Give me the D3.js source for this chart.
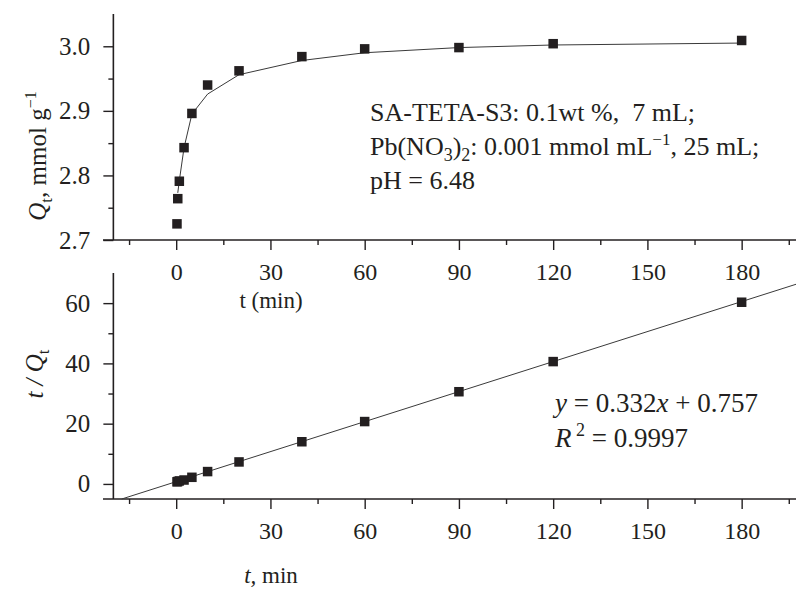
<!DOCTYPE html>
<html>
<head>
<meta charset="utf-8">
<script src="https://cdn.jsdelivr.net/npm/d3@7"></script>
<style>
  body { margin: 0; background: #fff; }
  text { font-family: "Liberation Serif", "Times New Roman", serif; fill: #231f20; white-space: pre; }
</style>
</head>
<body>
<svg id="chart" width="796" height="589"></svg>
<script>
// measured data (top: Qt vs t, bottom: t/Qt vs t)
const times = [0.25, 0.5, 1, 2.5, 5, 10, 20, 40, 60, 90, 120, 180];
const qt = [2.725, 2.764, 2.791, 2.843, 2.896, 2.940, 2.962, 2.984, 2.996, 2.998, 3.004, 3.009];
const fitTimes = [0.5, 1, 2.5, 5, 10, 20, 40, 60, 90, 120, 180];
const fitQt = [2.773, 2.792, 2.843, 2.895, 2.926, 2.956, 2.978, 2.990, 2.998, 3.002, 3.005];
const ratio = [0.7, 0.8, 1.0, 1.3, 2.2, 4.1, 7.3, 14.0, 20.7, 30.6, 40.6, 60.3];
const slope = 0.332, intercept = 0.757;

const xTicks = [0, 30, 60, 90, 120, 150, 180];
const xMinor = [-15, 15, 45, 75, 105, 135, 165, 195];
const qTicks = [2.7, 2.8, 2.9, 3.0];
const qMinor = [2.75, 2.85, 2.95];
const rTicks = [0, 20, 40, 60];
const rMinor = [10, 30, 50];

const svg = d3.select("#chart");
const ink = "#231f20";

const x = d3.scaleLinear().domain([-23.3, 197.3]).range([103, 796]);
const yTop = d3.scaleLinear().domain([2.7, 3.05]).range([240, 14]);
const yBot = d3.scaleLinear().domain([-5, 70]).range([499, 273]);

function drawAxes(y, yT, yM, fmt) {
    const g = svg.append("g");
    // axis lines
    g.append("line").attr("x1", x(-20)).attr("x2", x(-20))
        .attr("y1", y.range()[0]).attr("y2", y.range()[1]);
    g.append("line").attr("x1", x.range()[0]).attr("x2", x.range()[1])
        .attr("y1", y.range()[0]).attr("y2", y.range()[0]);
    g.selectAll("line").attr("stroke", ink).attr("stroke-width", 1.6);

    // x axis ticks
    const xa = g.append("g").attr("transform", `translate(0,${y.range()[0]})`)
        .call(d3.axisBottom(x).tickValues(xTicks).tickSize(10).tickSizeOuter(0).tickPadding(13));
    g.append("g").attr("transform", `translate(0,${y.range()[0]})`)
        .call(d3.axisBottom(x).tickValues(xMinor).tickSize(5).tickFormat(""));
    // y axis ticks
    const ya = g.append("g").attr("transform", `translate(${x(-20)},0)`)
        .call(d3.axisLeft(y).tickValues(yT).tickSize(10).tickPadding(13).tickFormat(fmt));
    g.append("g").attr("transform", `translate(${x(-20)},0)`)
        .call(d3.axisLeft(y).tickValues(yM).tickSize(5).tickFormat(""));

    g.selectAll(".domain").remove();
    g.selectAll(".tick line").attr("stroke", ink).attr("stroke-width", 1.4);
    xa.selectAll(".tick text").style("font-size", "24px").attr("fill", ink);
    ya.selectAll(".tick text").style("font-size", "25px").attr("fill", ink);
}

// top panel
drawAxes(yTop, qTicks, qMinor, d3.format(".1f"));
svg.append("path")
    .datum(fitTimes.map((t, i) => [t, fitQt[i]]))
    .attr("fill", "none").attr("stroke", "#3a3a3a").attr("stroke-width", 1)
    .attr("d", d3.line().x(d => x(d[0])).y(d => yTop(d[1])));
svg.append("g").selectAll("rect").data(times).join("rect")
    .attr("x", (d) => x(d) - 4.75).attr("y", (d, i) => yTop(qt[i]) - 4.75)
    .attr("width", 9.5).attr("height", 9.5).attr("fill", ink);

// bottom panel
drawAxes(yBot, rTicks, rMinor, d3.format("d"));
const x0 = (yBot.domain()[0] - intercept) / slope;
const x1 = x.domain()[1];
svg.append("line")
    .attr("x1", x(x0)).attr("y1", yBot(slope * x0 + intercept))
    .attr("x2", x(x1)).attr("y2", yBot(slope * x1 + intercept))
    .attr("stroke", "#3a3a3a").attr("stroke-width", 1);
svg.append("g").selectAll("rect").data(times).join("rect")
    .attr("x", (d) => x(d) - 4.75).attr("y", (d, i) => yBot(ratio[i]) - 4.75)
    .attr("width", 9.5).attr("height", 9.5).attr("fill", ink);

// titles
const fs = "23px";
svg.append("text").attr("x", 271).attr("y", 308).attr("text-anchor", "middle")
    .style("font-size", fs).text("t (min)");
const xt = svg.append("text").attr("x", 271).attr("y", 583).attr("text-anchor", "middle").style("font-size", fs);
xt.append("tspan").style("font-style", "italic").text("t,");
xt.append("tspan").text(" min");

const yl1 = svg.append("text").attr("transform", "translate(46,156) rotate(-90)")
    .attr("text-anchor", "middle").style("font-size", "25px");
yl1.append("tspan").style("font-style", "italic").text("Q");
yl1.append("tspan").attr("dy", 6).style("font-size", "17px").text("t");
yl1.append("tspan").attr("dy", -6).text(", mmol g");
yl1.append("tspan").attr("dy", -10).style("font-size", "16px").text("−1");

const yl2 = svg.append("text").attr("transform", "translate(43,374) rotate(-90)")
    .attr("text-anchor", "middle").style("font-size", "25px");
yl2.append("tspan").style("font-style", "italic").text("t / Q");
yl2.append("tspan").attr("dy", 6).style("font-size", "17px").text("t");

// annotation top
const ann = svg.append("g").style("font-size", "26px");
ann.append("text").attr("x", 370).attr("y", 121).text("SA-TETA-S3: 0.1wt %,  7 mL;");
const l2 = ann.append("text").attr("x", 370).attr("y", 155);
l2.append("tspan").text("Pb(NO");
l2.append("tspan").attr("dy", 6).style("font-size", "18px").text("3");
l2.append("tspan").attr("dy", -6).text(")");
l2.append("tspan").attr("dy", 6).style("font-size", "18px").text("2");
l2.append("tspan").attr("dy", -6).text(": 0.001 mmol mL");
l2.append("tspan").attr("dy", -10).style("font-size", "17px").text("−1");
l2.append("tspan").attr("dy", 10).text(", 25 mL;");
ann.append("text").attr("x", 370).attr("y", 189).text("pH = 6.48");

// annotation bottom
const eq = svg.append("text").attr("x", 555).attr("y", 412).style("font-size", "27px");
eq.append("tspan").style("font-style", "italic").text("y");
eq.append("tspan").text(" = 0.332");
eq.append("tspan").style("font-style", "italic").text("x");
eq.append("tspan").text(" + 0.757");
const r2 = svg.append("text").attr("x", 555).attr("y", 447).style("font-size", "27px");
r2.append("tspan").style("font-style", "italic").text("R");
r2.append("tspan").attr("dy", -11).style("font-size", "18px").text(" 2");
r2.append("tspan").attr("dy", 11).text(" = 0.9997");
</script>
</body>
</html>
